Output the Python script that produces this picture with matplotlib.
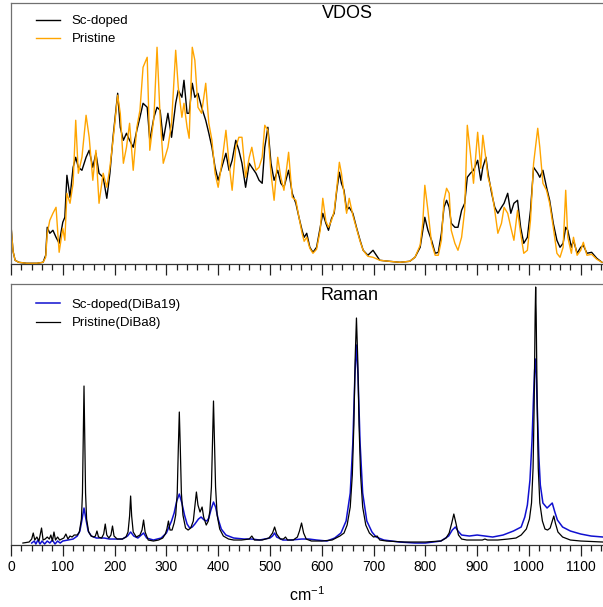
import numpy as np
import matplotlib
matplotlib.use("Agg")
import matplotlib.pyplot as plt
from matplotlib.ticker import MultipleLocator

plt.rcParams['font.family'] = ['Liberation Sans', 'DejaVu Sans']
plt.rcParams['mathtext.default'] = 'regular'

# VDOS (arbitrary units)
vdos_freq = [0, 4, 8, 15, 30, 50, 62, 67, 70, 75,
             81, 87, 93, 100, 104, 108, 114, 120, 125, 130,
             137, 145, 151, 158, 164, 170, 178, 185, 191, 197,
             206, 211, 217, 223, 229, 236, 243, 249, 255, 263,
             268, 276, 282, 288, 294, 303, 310, 318, 323, 330,
             334, 340, 344, 350, 355, 361, 368, 376, 382, 388,
             394, 400, 407, 415, 421, 427, 434, 440, 446, 453,
             460, 465, 473, 479, 485, 490, 496, 502, 508, 515,
             521, 527, 536, 543, 550, 556, 562, 566, 571, 577,
             583, 590, 597, 602, 608, 613, 619, 624, 629, 634,
             638, 643, 648, 653, 660, 667, 674, 680, 689, 699,
             712, 730, 751, 770, 780, 790, 795, 799, 805, 812,
             819, 825, 831, 836, 841, 846, 850, 857, 863, 870,
             876, 881, 887, 893, 901, 907, 911, 917, 921, 928,
             934, 940, 947, 952, 959, 965, 971, 978, 984, 990,
             997, 1003, 1009, 1017, 1021, 1027, 1034, 1040, 1047, 1054,
             1060, 1066, 1071, 1075, 1082, 1086, 1093, 1100, 1105, 1112,
             1121, 1131, 1141]
vdos_sc = [38, 12, 3, 1, 0, 0, 1, 8, 36, 30,
           33, 26, 20, 41, 46, 88, 66, 96, 106, 96,
           93, 106, 113, 96, 110, 90, 86, 65, 90, 126,
           170, 136, 123, 130, 123, 116, 133, 146, 160, 156,
           123, 146, 156, 153, 123, 150, 126, 160, 173, 166,
           183, 150, 150, 180, 166, 170, 156, 143, 130, 116,
           96, 83, 96, 110, 93, 103, 123, 113, 100, 76,
           100, 96, 90, 83, 80, 116, 136, 100, 83, 93,
           80, 76, 93, 70, 60, 46, 33, 26, 30, 16,
           11, 16, 36, 50, 40, 33, 45, 50, 73, 91,
           80, 73, 53, 56, 50, 36, 23, 13, 8, 13,
           3, 2, 1, 2, 6, 16, 33, 46, 33, 23,
           10, 11, 30, 56, 63, 56, 40, 36, 36, 53,
           60, 86, 90, 93, 103, 83, 96, 106, 90, 70,
           56, 50, 56, 60, 70, 50, 60, 63, 36, 20,
           26, 53, 96, 90, 86, 93, 76, 63, 40, 23,
           16, 20, 36, 33, 16, 23, 10, 16, 18, 10,
           11, 5, 1]
vdos_pristine = [38, 12, 3, 1, 0, 0, 1, 6, 30, 43,
                 50, 56, 11, 35, 23, 70, 60, 80, 143, 90,
                 106, 148, 126, 83, 113, 60, 90, 76, 96, 123,
                 168, 150, 100, 116, 140, 93, 136, 153, 196, 206,
                 113, 146, 216, 146, 100, 116, 140, 213, 176, 146,
                 160, 136, 125, 216, 203, 156, 150, 180, 140, 123,
                 90, 76, 100, 133, 100, 73, 116, 126, 126, 86,
                 106, 116, 93, 96, 106, 138, 133, 90, 63, 106,
                 86, 73, 111, 66, 63, 46, 30, 22, 26, 15,
                 10, 14, 33, 65, 42, 36, 43, 52, 75, 101,
                 90, 70, 50, 65, 48, 35, 22, 13, 7, 6,
                 3, 2, 1, 2, 6, 18, 40, 78, 53, 20,
                 8, 8, 23, 63, 75, 70, 33, 20, 13, 26,
                 53, 138, 110, 80, 131, 95, 128, 104, 86, 73,
                 53, 30, 40, 56, 50, 36, 23, 53, 30, 10,
                 13, 43, 100, 135, 116, 80, 73, 60, 36, 10,
                 6, 16, 73, 26, 10, 26, 8, 13, 21, 8,
                 9, 4, 1]

# Raman, Pristine(DiBa8)
raman_freq_pr = [23, 35, 40, 43, 46, 50, 54, 59, 62, 66,
                 70, 74, 77, 80, 83, 86, 90, 94, 98, 102,
                 106, 110, 114, 118, 122, 128, 132, 136, 138, 139.5,
                 141, 142.5, 144, 146, 150, 155, 160, 163, 166, 169,
                 175, 179, 182, 185, 189, 193, 196, 199, 205, 215,
                 222, 226, 229, 231, 233, 236, 242, 249, 253, 256,
                 259, 265, 275, 285, 293, 298, 301, 304, 307, 311,
                 315, 318, 321, 323, 325, 327, 329, 332, 337, 342,
                 347, 352, 355, 358, 361, 365, 369, 372, 377, 381,
                 384, 387, 389, 391, 393, 395, 398, 403, 410, 420,
                 430, 445, 460, 465, 470, 485, 498, 505, 509, 513,
                 520, 526, 530, 534, 545, 553, 557, 561, 565, 570,
                 580, 600, 620, 635, 643, 649, 655, 659, 662, 664.5,
                 667, 669.5, 672, 675, 679, 685, 692, 700, 707, 712,
                 725, 760, 800, 830, 840, 846, 851, 855, 859, 864,
                 870, 880, 900, 910, 915, 920, 940, 960, 975, 985,
                 995, 1001, 1005, 1008, 1010, 1012, 1013, 1014, 1016, 1018,
                 1021, 1026, 1031, 1036, 1041, 1045, 1048, 1051, 1056, 1065,
                 1080, 1100, 1143]
raman_pr = [2, 3, 6, 12, 5, 8, 4, 17, 5, 6,
            8, 6, 10, 4, 13, 5, 8, 5, 6, 7,
            11, 6, 9, 8, 10, 10, 13, 26, 52, 105,
            159, 105, 52, 26, 13, 9, 8, 9, 14, 8,
            7, 11, 21, 10, 7, 10, 19, 9, 6, 6,
            8, 13, 29, 49, 29, 13, 8, 10, 15, 25,
            13, 5, 4, 5, 7, 11, 16, 24, 15, 15,
            22, 30, 52, 95, 133, 95, 52, 30, 17, 15,
            17, 24, 38, 53, 40, 33, 38, 28, 20, 24,
            34, 58, 103, 144, 103, 58, 30, 16, 9, 6,
            5, 5, 6, 9, 5, 5, 7, 12, 18, 11,
            6, 6, 8, 5, 5, 8, 14, 22, 12, 6,
            4, 4, 5, 9, 12, 20, 38, 70, 120, 186,
            227, 186, 120, 70, 38, 20, 12, 8, 9, 5,
            4, 3, 3, 4, 7, 12, 22, 31, 22, 10,
            6, 5, 5, 5, 6, 5, 5, 6, 7, 10,
            16, 26, 42, 77, 137, 230, 258, 230, 137, 77,
            42, 24, 16, 15, 17, 24, 29, 22, 13, 8,
            5, 4, 3]

# Raman, Sc-doped(DiBa19)
raman_freq_sc = [40, 45, 48, 52, 56, 60, 65, 70, 75, 80,
                 85, 90, 95, 100, 110, 120, 128, 133, 137, 141,
                 145, 149, 155, 165, 180, 190, 200, 215, 225, 231,
                 237, 245, 256, 262, 275, 290, 300, 305, 310, 315,
                 320, 325, 330, 335, 340, 345, 350, 355, 362, 367,
                 373, 378, 382, 386, 391, 395, 400, 406, 415, 430,
                 450, 465, 480, 500, 505, 509, 513, 525, 540, 561,
                 575, 590, 610, 625, 637, 647, 655, 660, 664, 667,
                 670, 674, 679, 687, 697, 705, 720, 750, 780, 800,
                 830, 845, 852, 858, 863, 870, 885, 900, 915, 930,
                 950, 970, 985, 992, 997, 1002, 1006, 1009, 1011, 1013,
                 1016, 1019, 1022, 1027, 1035, 1041, 1045, 1050, 1055, 1065,
                 1080, 1100, 1120, 1143]
raman_sc = [2, 4, 1, 5, 1, 4, 1, 4, 2, 5,
            1, 4, 2, 4, 5, 6, 9, 14, 25, 37,
            25, 14, 9, 7, 7, 6, 6, 6, 9, 13,
            9, 7, 12, 7, 5, 7, 12, 18, 24, 32,
            44, 51, 42, 30, 21, 17, 18, 21, 26, 28,
            25, 24, 27, 35, 43, 38, 26, 16, 10, 7,
            6, 6, 5, 7, 9, 12, 8, 5, 5, 6,
            6, 5, 4, 7, 12, 24, 52, 102, 170, 200,
            170, 102, 52, 24, 13, 8, 5, 3, 2, 2,
            4, 9, 15, 18, 14, 10, 9, 10, 9, 8,
            10, 14, 18, 28, 40, 65, 105, 150, 175, 186,
            140, 90, 60, 42, 37, 40, 42, 33, 25, 18,
            14, 11, 9, 8]

fig = plt.figure(figsize=(6.03, 6.07), dpi=100)
ax1 = fig.add_axes([0.0182, 0.5646, 0.9818, 0.4310])
ax2 = fig.add_axes([0.0182, 0.1021, 0.9818, 0.4300])

ax1.plot(vdos_freq, vdos_sc, color='black', lw=1.0, label='Sc-doped')
ax1.plot(vdos_freq, vdos_pristine, color='orange', lw=1.0, label='Pristine')
ax1.set_ylim(-1, 260.6)
ax1.text(0.5676, 0.958, 'VDOS', transform=ax1.transAxes, ha='center', va='center', fontsize=13)

ax2.plot(raman_freq_sc, raman_sc, color='#1010d0', lw=1.1, label='Sc-doped(DiBa19)')
ax2.plot(raman_freq_pr, raman_pr, color='black', lw=0.9, label='Pristine(DiBa8)')
ax2.set_ylim(0, 261)
ax2.text(0.5715, 0.955, 'Raman', transform=ax2.transAxes, ha='center', va='center', fontsize=13)
ax2.set_xlabel('cm$^{-1}$', fontsize=11.5, labelpad=8)

for ax in (ax1, ax2):
    ax.set_xlim(0, 1143)
    ax.xaxis.set_major_locator(MultipleLocator(100))
    ax.xaxis.set_minor_locator(MultipleLocator(20))
    ax.tick_params(axis='x', which='major', direction='out', length=8, width=0.9,
                   color='#222222', labelsize=10, pad=3)
    ax.tick_params(axis='x', which='minor', direction='out', length=4.5, width=0.9,
                   color='#222222')
    ax.set_yticks([])
    ax.spines['right'].set_visible(False)
    for s in ('left', 'top', 'bottom'):
        ax.spines[s].set_color('#707070')
        ax.spines[s].set_linewidth(0.9)
    ax.spines['bottom'].set_color('#333333')

ax1.legend(loc='upper left', bbox_to_anchor=(0.042, 0.952), frameon=False,
           fontsize=9.5, handlelength=1.8, handletextpad=0.9, labelspacing=0.42,
           borderpad=0, borderaxespad=0)
ax2.legend(loc='upper left', bbox_to_anchor=(0.042, 0.945), frameon=False,
           fontsize=9.5, handlelength=1.8, handletextpad=0.9, labelspacing=0.5,
           borderpad=0, borderaxespad=0)

ax1.tick_params(axis='x', labelbottom=False)

plt.savefig('out.png', dpi=100)
